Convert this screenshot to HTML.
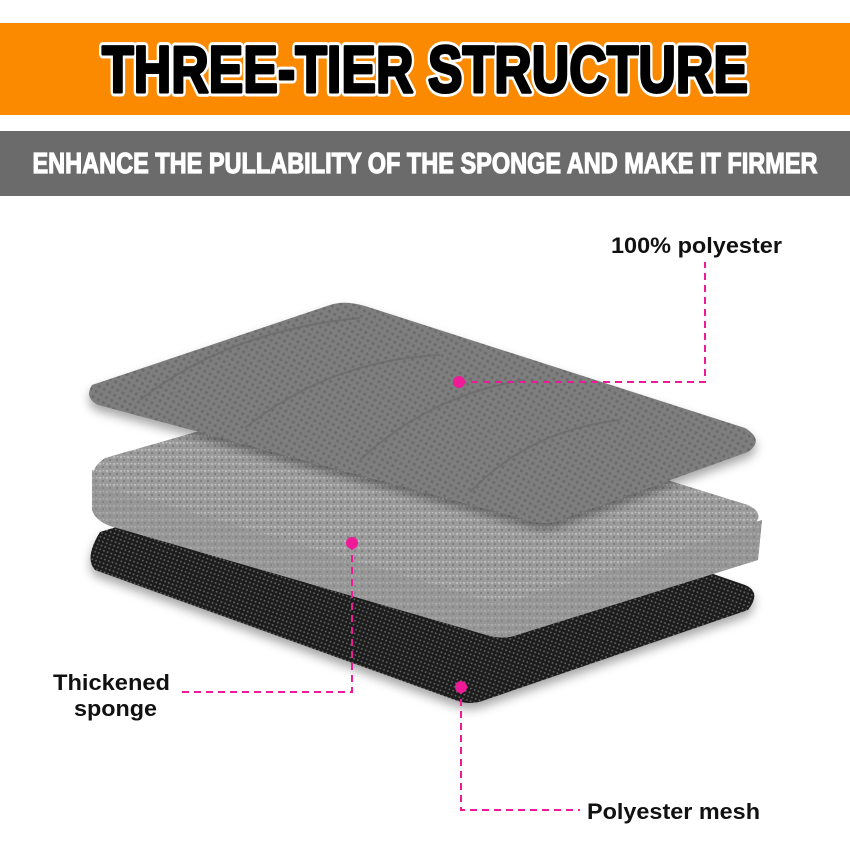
<!DOCTYPE html>
<html><head><style>
html,body{margin:0;padding:0;background:#fff;}
svg{display:block;}
</style></head><body>
<svg width="850" height="850" viewBox="0 0 850 850" xmlns="http://www.w3.org/2000/svg">
<defs>
<pattern id="mesh" width="6" height="6" patternUnits="userSpaceOnUse" patternTransform="rotate(30)">
<rect width="6" height="6" fill="#7e7e7e"/><circle cx="3" cy="3" r="1.6" fill="#6c6c6c"/>
</pattern>
<pattern id="blk" width="4" height="4" patternUnits="userSpaceOnUse" patternTransform="rotate(20)">
<rect width="4" height="4" fill="#1e1e1e"/><circle cx="2" cy="2" r="0.9" fill="#6a6a6a"/>
</pattern>
<pattern id="sp" width="7" height="7" patternUnits="userSpaceOnUse">
<rect width="7" height="7" fill="#9a9a9a"/><circle cx="2" cy="2" r="1.3" fill="#b8b8b8"/><circle cx="5" cy="5" r="1.1" fill="#7d7d7d"/><circle cx="5.5" cy="1.5" r="0.8" fill="#c2c2c2"/>
</pattern>
<filter id="sh" x="-10%" y="-10%" width="120%" height="130%"><feDropShadow dx="0" dy="6" stdDeviation="5" flood-opacity="0.35"/></filter>
</defs>
<rect x="0" y="23" width="850" height="92" fill="#fb8a00"/>
<text x="425" y="92" text-anchor="middle" font-family="'Liberation Sans Narrow','Liberation Sans',sans-serif" font-weight="bold" font-size="66" textLength="646" lengthAdjust="spacingAndGlyphs" fill="#fff" stroke="#fff" stroke-width="9" stroke-linejoin="round">THREE-TIER STRUCTURE</text>
<text x="425" y="92" text-anchor="middle" font-family="'Liberation Sans Narrow','Liberation Sans',sans-serif" font-weight="bold" font-size="66" textLength="646" lengthAdjust="spacingAndGlyphs" fill="#000" stroke="#000" stroke-width="3" stroke-linejoin="round">THREE-TIER STRUCTURE</text>
<rect x="0" y="131" width="850" height="65" fill="#6b6b6b"/>
<text x="425" y="173" text-anchor="middle" font-family="'Liberation Sans Narrow','Liberation Sans',sans-serif" font-weight="bold" font-size="29" textLength="785" lengthAdjust="spacingAndGlyphs" fill="#fff" stroke="#fff" stroke-width="1.2">ENHANCE THE PULLABILITY OF THE SPONGE AND MAKE IT FIRMER</text>

<!-- black mesh -->
<path d="M100,532 L360,452 L745,585 Q762,592 748,610 L485,700 Q470,706 455,700 L95,570 Q84,558 100,532 Z" fill="url(#blk)" filter="url(#sh)"/>
<!-- sponge side -->
<path d="M92,470 L92,510 Q95,520 110,526 L490,636 Q505,640 520,634 L758,560 L762,520 L500,600 Z" fill="#8f8f8f"/>
<path d="M92,470 L92,510 Q95,520 110,526 L490,636 Q505,640 520,634 L758,560 L762,520 L500,600 Z" fill="url(#sp)" opacity="0.6"/>
<!-- sponge top -->
<path d="M105,458 L360,385 L748,505 Q768,515 750,528 L515,600 Q500,605 485,600 L100,485 Q85,472 105,458 Z" fill="url(#sp)"/>
<!-- top mat -->
<path d="M330,305 Q345,300 365,306 L745,428 Q765,440 748,452 L560,520 Q545,526 528,520 L98,405 Q84,398 92,385 Z" fill="url(#mesh)" filter="url(#sh)"/>
<path d="M140,400 Q230,330 360,318 M245,428 Q330,360 440,355 M360,460 Q430,395 525,380 M470,492 Q530,430 620,420" stroke="#6a6a6a" stroke-width="2" fill="none" opacity="0.7"/>

<!-- callouts -->
<g stroke="#ee1a98" stroke-width="2" stroke-dasharray="7,5" fill="none">
<path d="M459,382 L705,382 L705,262"/>
<path d="M352,543 L352,692 L178,692"/>
<path d="M461,687 L461,810 L580,810"/>
</g>
<g fill="#ee1a98"><circle cx="459" cy="382" r="6"/><circle cx="352" cy="543" r="6"/><circle cx="461" cy="687" r="6"/></g>
<g font-family="'Liberation Sans',sans-serif" font-weight="bold" font-size="22" fill="#111">
<text x="611" y="253" textLength="171" lengthAdjust="spacingAndGlyphs">100% polyester</text>
<text x="53" y="690" textLength="117" lengthAdjust="spacingAndGlyphs">Thickened</text>
<text x="74" y="716" textLength="83" lengthAdjust="spacingAndGlyphs">sponge</text>
<text x="587" y="819" textLength="173" lengthAdjust="spacingAndGlyphs">Polyester mesh</text>
</g>
</svg>
</body></html>
